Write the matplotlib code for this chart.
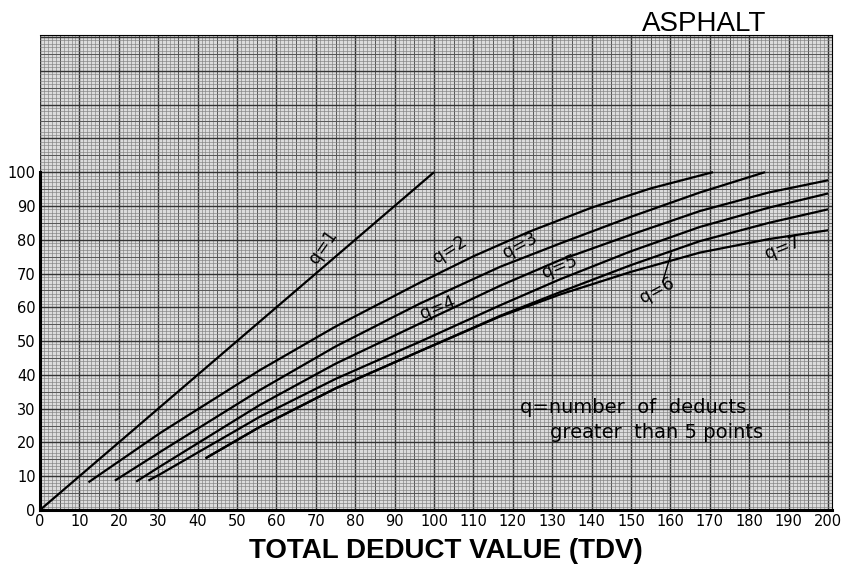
import numpy as np
import matplotlib
matplotlib.use("Agg")
import matplotlib.pyplot as plt

# --- data (TDV -> corrected deduct value) ---
q1_tdv = [0, 100]
q1_cdv = [0, 100]
q2_tdv = [12.3, 30.5, 55.8, 75, 96.4, 110, 124, 140, 155, 170.8]
q2_cdv = [8.2, 22.8, 41.4, 54.3, 67.3, 75.1, 82.3, 89.5, 95.2, 100]
q3_tdv = [19, 30.5, 55.8, 75, 96.4, 116.8, 132, 150, 167.5, 184]
q3_cdv = [8.7, 17.2, 35.5, 48.4, 61.1, 72, 78.9, 86.8, 94.0, 100]
q4_tdv = [24.4, 30.5, 55.8, 75, 96.4, 116.8, 132, 150, 167.5, 185, 200]
q4_cdv = [8.4, 12.9, 31.1, 43.3, 55.2, 66.4, 74, 81.5, 88.5, 94, 97.6]
q5_tdv = [27.5, 30.5, 55.8, 75, 96.4, 116.8, 132, 150, 167.5, 185, 200]
q5_cdv = [8.7, 10.6, 27.6, 38.8, 49.8, 60.6, 68.3, 76.6, 83.8, 89.5, 93.7]
q6_tdv = [42, 55.8, 75, 96.4, 116.8, 132, 150, 167.5, 185, 200]
q6_cdv = [15.3, 24.6, 36.0, 47.0, 57.5, 64.5, 72.5, 79.6, 85.0, 89]
q7_tdv = [42, 55.8, 75, 96.4, 116.8, 132, 150, 167.5, 185, 200]
q7_cdv = [15.3, 24.6, 36.0, 47.0, 57.3, 63.8, 70.5, 76.2, 80.2, 82.8]

curves = [(q1_tdv, q1_cdv), (q2_tdv, q2_cdv), (q3_tdv, q3_cdv), (q4_tdv, q4_cdv),
          (q5_tdv, q5_cdv), (q6_tdv, q6_cdv), (q7_tdv, q7_cdv)]

# label text, position (TDV, CDV), rotation
labels = ["q=1", "q=2", "q=3", "q=4", "q=5", "q=6", "q=7"]
label_x = [71.8, 104, 121.8, 100.8, 132, 156.6, 188.6]
label_y = [77.8, 77.0, 78.4, 60.0, 72.0, 65.0, 77.5]
label_rot = [55, 32, 28, 22, 22, 28, 22]

x_ticks = list(range(0, 201, 10))
y_ticks = list(range(0, 101, 10))

fig = plt.figure(figsize=(8.41, 5.65), dpi=100)
ax = fig.add_axes([40/841, 1-510/565, (832-40)/841, (510-35)/565])
ax.set_xlim(0, 201)
ax.set_ylim(0, 140.6)
ax.set_facecolor("#dcdcdc")

# graph paper grid: 1, 5 and 10 unit lines
gx = np.arange(0, 202, 1)
gy = np.arange(0, 141, 1)
for v in gx:
    lw, c = (1.0, "#333333") if v % 10 == 0 else ((0.7, "#555555") if v % 5 == 0 else (0.45, "#808080"))
    ax.axvline(v, color=c, lw=lw, zorder=1)
for v in gy:
    lw, c = (1.0, "#333333") if v % 10 == 0 else ((0.7, "#555555") if v % 5 == 0 else (0.45, "#808080"))
    ax.axhline(v, color=c, lw=lw, zorder=1)

for xs, ys in curves:
    ax.plot(xs, ys, color="black", lw=1.6, zorder=3, solid_capstyle="butt",
            solid_joinstyle="round")

for t, x, y, r in zip(labels, label_x, label_y, label_rot):
    ax.text(x, y, t, rotation=r, ha="center", va="center", fontsize=12.5,
            family="DejaVu Sans", zorder=4)

# leader line for q=6
ax.plot([158.0, 160.2], [67.5, 76.0], color="black", lw=1.0, zorder=3)

ax.text(150.5, 30.2, "q=number  of  deducts", ha="center", va="center", fontsize=14, zorder=4)
ax.text(156.6, 23.0, "greater  than 5 points", ha="center", va="center", fontsize=14, zorder=4)

ax.set_xticks(x_ticks)
ax.set_yticks(y_ticks)
ax.tick_params(length=0, labelsize=10.5, pad=3)
for s in ["top", "right"]:
    ax.spines[s].set_linewidth(0.8)
ax.spines["left"].set_bounds(0, 100)
ax.spines["left"].set_linewidth(2.2)
ax.spines["bottom"].set_linewidth(2.2)

fig.text(704/841, 1-24/565, "ASPHALT", ha="center", va="center", fontsize=20, family="Liberation Sans")
fig.text(446/841, 1-551/565, "TOTAL DEDUCT VALUE (TDV)", ha="center", va="center",
         fontsize=20, fontweight="bold", family="Liberation Sans")

fig.savefig("out.png", dpi=100)
